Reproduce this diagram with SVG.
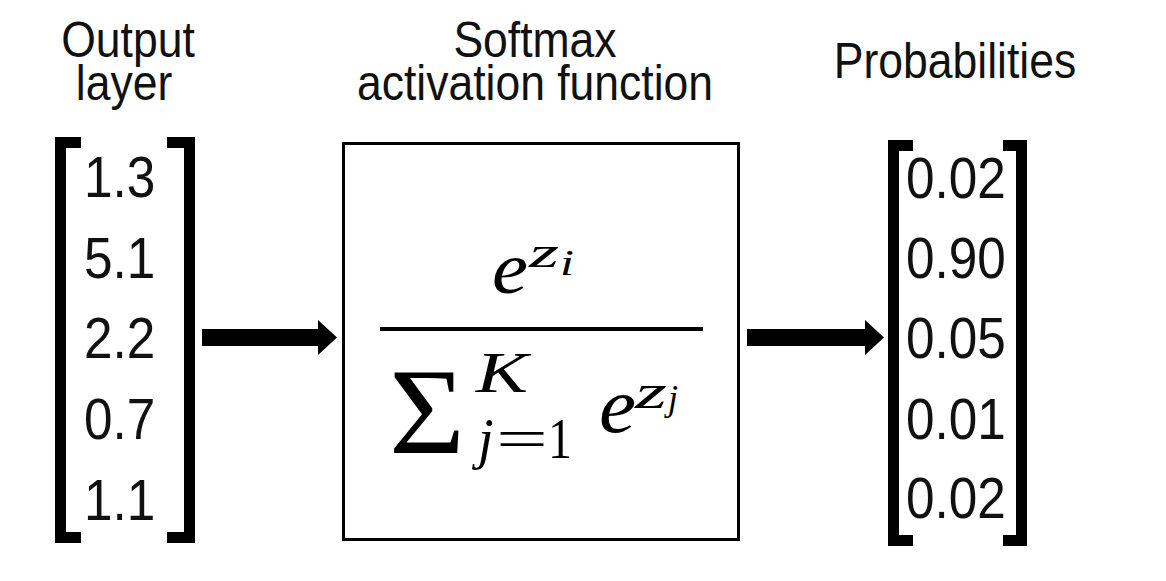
<svg xmlns="http://www.w3.org/2000/svg" width="1166" height="581" viewBox="0 0 1166 581">
<style>
.hdr{font-family:"Liberation Sans",Arial,sans-serif;font-size:50px;fill:#111;text-anchor:middle}
.num{font-family:"Liberation Sans",Arial,sans-serif;font-size:57px;fill:#111}
.br{fill:none;stroke:#000;stroke-width:11;stroke-linejoin:miter}
.m{font-family:"Liberation Serif","Times New Roman",serif;fill:#000}
.it{font-style:italic}
</style>
<rect width="1166" height="581" fill="#fff"/>
<g id="headers">
<text class="hdr" transform="translate(128,57) scale(0.89,1)">Output</text>
<text class="hdr" transform="translate(124,100) scale(0.89,1)">layer</text>
<text class="hdr" transform="translate(535,57) scale(0.89,1)">Softmax</text>
<text class="hdr" transform="translate(535,100) scale(0.89,1)">activation function</text>
<text class="hdr" transform="translate(955,78) scale(0.89,1)">Probabilities</text>
</g>
<g id="output-layer">
<path class="br" d="M81,142.5 H60.5 V537.5 H81"/>
<path class="br" d="M167,142.5 H189.5 V537.5 H167"/>
<text class="num" transform="translate(84,197) scale(0.9,1)">1.3</text>
<text class="num" transform="translate(84,278) scale(0.9,1)">5.1</text>
<text class="num" transform="translate(84,358) scale(0.9,1)">2.2</text>
<text class="num" transform="translate(84,439) scale(0.9,1)">0.7</text>
<text class="num" transform="translate(84,520) scale(0.9,1)">1.1</text>
</g>
<g id="softmax">
<rect x="343.5" y="143.5" width="395" height="396" fill="none" stroke="#000" stroke-width="3"/>
<text class="m it" x="492" y="293" font-size="74" textLength="36" lengthAdjust="spacingAndGlyphs">e</text>
<text class="m it" x="529" y="267" font-size="44" textLength="30" lengthAdjust="spacingAndGlyphs">z</text>
<text class="m it" x="560" y="275" font-size="36" textLength="14" lengthAdjust="spacingAndGlyphs">i</text>
<rect x="380" y="327" width="323" height="4" fill="#000"/>
<text class="m" x="389" y="453" font-size="122" textLength="76" lengthAdjust="spacingAndGlyphs">Σ</text>
<text class="m it" x="476" y="392" font-size="56" textLength="52" lengthAdjust="spacingAndGlyphs">K</text>
<text class="m it" x="478" y="458" font-size="56">j</text>
<text class="m" x="496" y="458" font-size="56" textLength="52" lengthAdjust="spacingAndGlyphs">=</text>
<text class="m" x="548" y="458" font-size="58" textLength="24" lengthAdjust="spacingAndGlyphs">1</text>
<text class="m it" x="599" y="432" font-size="78" textLength="37" lengthAdjust="spacingAndGlyphs">e</text>
<text class="m it" x="635" y="408" font-size="48" textLength="32" lengthAdjust="spacingAndGlyphs">z</text>
<text class="m it" x="668" y="410" font-size="36">j</text>
</g>
<g id="probabilities">
<path class="br" d="M913,145.5 H893.5 V540.5 H913"/>
<path class="br" d="M1003,145.5 H1021.5 V540.5 H1003"/>
<text class="num" transform="translate(906,198) scale(0.9,1)">0.02</text>
<text class="num" transform="translate(906,278) scale(0.9,1)">0.90</text>
<text class="num" transform="translate(906,358) scale(0.9,1)">0.05</text>
<text class="num" transform="translate(906,439) scale(0.9,1)">0.01</text>
<text class="num" transform="translate(906,518) scale(0.9,1)">0.02</text>
</g>
<g id="connectors">
<path d="M202,329 H318 V320 L337,337.5 L318,355 V346 H202 Z" fill="#000"/>
<path d="M747,329 H865 V320 L884,337.5 L865,355 V346 H747 Z" fill="#000"/>
</g>
</svg>
